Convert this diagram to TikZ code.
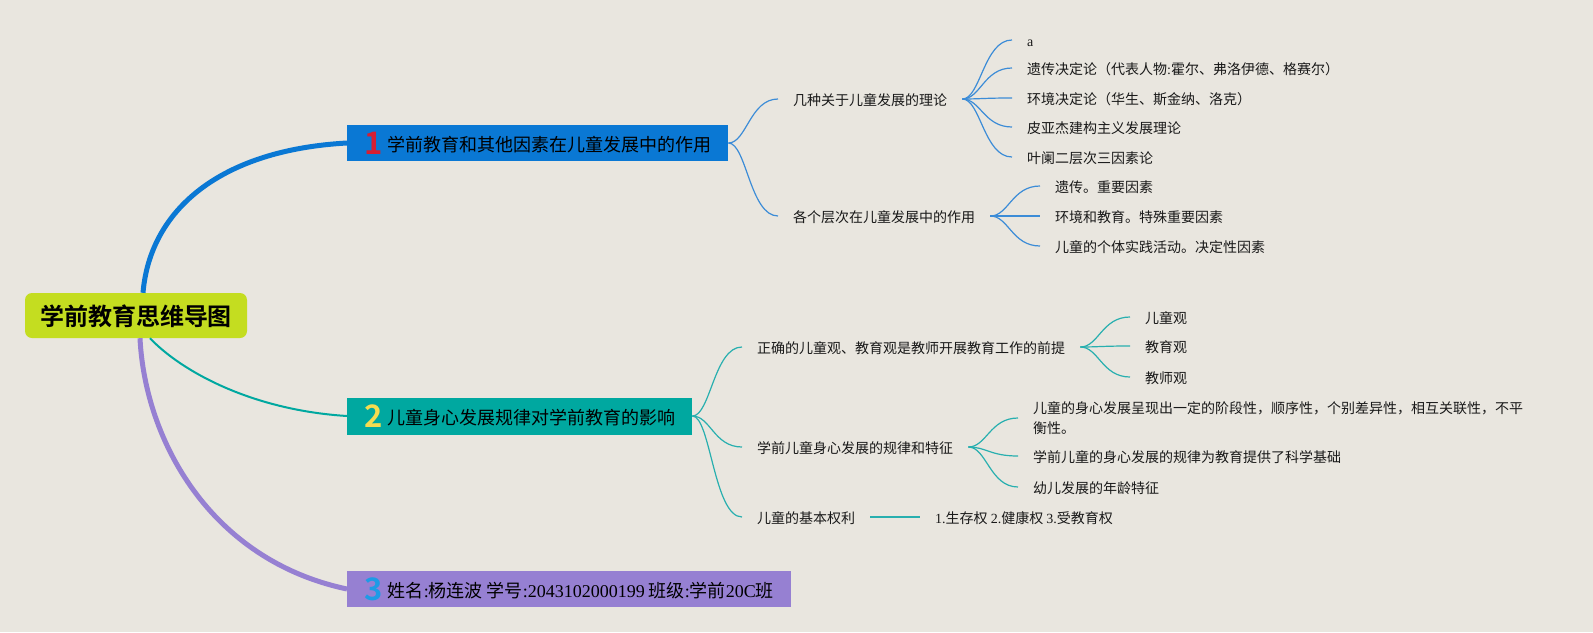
\documentclass[tikz,border=0pt]{standalone}
\usepackage{fontspec}
\setmainfont{Noto Sans CJK SC}[BoldFont={* Bold}]
\newfontfamily\latf{Liberation Serif}
\usetikzlibrary{calc}
\definecolor{bg}{RGB}{233,230,223}
\definecolor{rootc}{RGB}{196,221,32}
\definecolor{mblue}{RGB}{10,120,212}
\definecolor{mteal}{RGB}{0,168,160}
\definecolor{mpurple}{RGB}{150,128,210}
\definecolor{numred}{RGB}{215,30,50}
\definecolor{numyellow}{RGB}{245,220,80}
\definecolor{numblue}{RGB}{30,155,230}
\definecolor{tblue}{RGB}{60,140,215}
\definecolor{tteal}{RGB}{40,175,175}
\definecolor{txtc}{RGB}{25,25,25}
\newcommand\numd[2]{\raisebox{-3pt}{\fontsize{31}{31}\selectfont\bfseries\color{#1}#2}}
\newcommand\mmlink[3]{\draw[#1] (#2) .. controls ($(#2)+(18,0)$) and ($(#3)+(-28,0)$) .. (#3);}
\tikzset{
  rootbox/.style={fill=rootc, rounded corners=7pt, minimum width=222pt, minimum height=45pt, inner sep=0pt,
    font=\fontsize{24}{24}\selectfont\bfseries, text=black, text height=22pt, text depth=3pt},
  mainbox/.style={anchor=west, minimum height=36pt, inner sep=0pt, font=\fontsize{18}{18}\selectfont,
    text=black, text height=17pt, text depth=0pt},
  leaf/.style={anchor=west, inner xsep=15pt, inner ysep=1pt, font=\fontsize{14}{20}\selectfont, text=txtc,
    text height=13.5pt, text depth=0.5pt},
  leafml/.style={anchor=west, inner xsep=15pt, inner ysep=1pt, font=\fontsize{14}{20}\selectfont, text=txtc,
    align=left},
  bthin/.style={draw=tblue, line width=1.2pt},
  tthin/.style={draw=tteal, line width=1.2pt},
}
\begin{document}
\begin{tikzpicture}[x=1pt,y=-1pt]
\fill[bg] (0,0) rectangle (1593,632);
\useasboundingbox (0,0) rectangle (1593,632);

% root and main topics
\node[rootbox] (root) at (136,315.5) {学前教育思维导图};
\node[mainbox, fill=mblue, minimum width=381pt] (n1) at (347,143)
  {\numd{numred}{1}\hspace{5pt}学前教育和其他因素在儿童发展中的作用};
\node[mainbox, fill=mteal, minimum width=345pt, minimum height=37pt] (n2) at (347,416)
  {\numd{numyellow}{2}\hspace{5pt}儿童身心发展规律对学前教育的影响};
\node[mainbox, fill=mpurple, minimum width=444pt] (n3) at (347,589)
  {\numd{numblue}{3}\hspace{5pt}姓名{\latf:}杨连波 学号{\latf:2043102000199} 班级{\latf:}学前{\latf 20C}班};

% main branches
\draw[mblue, line width=5pt] ($(root.north)+(7,0)$) .. controls (150,210) and (220,150) .. (n1.west);
\draw[mteal, line width=2pt] ($(root.south)+(14,0)$) .. controls (180,370) and (250,410) .. (n2.west);
\draw[mpurple, line width=5pt] ($(root.south)+(4,0)$) .. controls (145,440) and (210,560) .. (n3.west);

% topic 1
\node[leaf] (c11) at (778,99) {几种关于儿童发展的理论};
\node[leaf] (c12) at (778,216) {各个层次在儿童发展中的作用};
\node[leaf] (l1) at (1012,40) {\latf a};
\node[leaf] (l2) at (1012,68) {遗传决定论（代表人物{\latf:}霍尔、弗洛伊德、格赛尔）};
\node[leaf] (l3) at (1012,98) {环境决定论（华生、斯金纳、洛克）};
\node[leaf] (l4) at (1012,127) {皮亚杰建构主义发展理论};
\node[leaf] (l5) at (1012,157) {叶阑二层次三因素论};
\node[leaf] (m1) at (1040,186) {遗传。重要因素};
\node[leaf] (m2) at (1040,216) {环境和教育。特殊重要因素};
\node[leaf] (m3) at (1040,246) {儿童的个体实践活动。决定性因素};

\mmlink{bthin}{n1.east}{c11.west}
\mmlink{bthin}{n1.east}{c12.west}
\foreach \t in {l1,l2,l3,l4,l5}{\mmlink{bthin}{c11.east}{\t.west}}
\foreach \t in {m1,m2,m3}{\mmlink{bthin}{c12.east}{\t.west}}

% topic 2
\node[leaf] (c21) at (742,347) {正确的儿童观、教育观是教师开展教育工作的前提};
\node[leaf] (c22) at (742,447) {学前儿童身心发展的规律和特征};
\node[leaf] (c23) at (742,517) {儿童的基本权利};
\node[leaf] (p1) at (1130,317) {儿童观};
\node[leaf] (p2) at (1130,346) {教育观};
\node[leaf] (p3) at (1130,377) {教师观};
\node[leafml] (q1) at (1018,418) {儿童的身心发展呈现出一定的阶段性，顺序性，个别差异性，相互关联性，不平\\衡性。};
\node[leaf] (q2) at (1018,456) {学前儿童的身心发展的规律为教育提供了科学基础};
\node[leaf] (q3) at (1018,487) {幼儿发展的年龄特征};
\node[leaf] (r1) at (920,517) {{\latf 1.}生存权 {\latf 2.}健康权 {\latf 3.}受教育权};

\mmlink{tthin}{n2.east}{c21.west}
\mmlink{tthin}{n2.east}{c22.west}
\mmlink{tthin}{n2.east}{c23.west}
\foreach \t in {p1,p2,p3}{\mmlink{tthin}{c21.east}{\t.west}}
\foreach \t in {q1,q2,q3}{\mmlink{tthin}{c22.east}{\t.west}}
\draw[tteal, line width=2pt] (c23.east) -- (r1.west);
\end{tikzpicture}
\end{document}
